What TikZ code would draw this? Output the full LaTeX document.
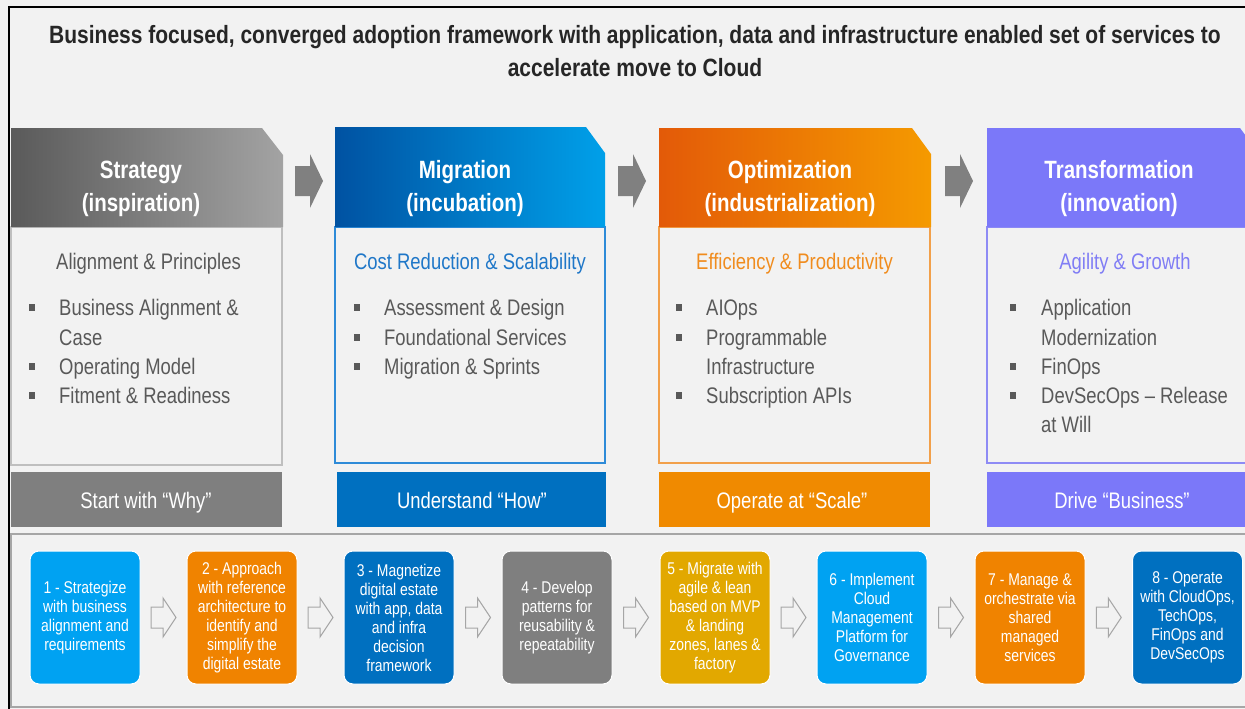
\documentclass[tikz,border=0pt]{standalone}
\usepackage{fontspec}
\setmainfont{Liberation Sans}
\newfontfamily\nar[FakeStretch=0.82]{Liberation Sans}
\newfontfamily\nart[FakeStretch=0.84]{Liberation Sans}
\usetikzlibrary{calc,fit}
\definecolor{bg}{HTML}{F2F2F2}
\definecolor{ttlc}{HTML}{262626}
\definecolor{gtxt}{HTML}{595959}
\definecolor{gA}{HTML}{5A5A5A}
\definecolor{gB}{HTML}{A3A3A3}
\definecolor{bA}{HTML}{0052A2}
\definecolor{bB}{HTML}{00A0E9}
\definecolor{oA}{HTML}{E35A08}
\definecolor{oB}{HTML}{F59A00}
\definecolor{pu}{HTML}{7B78F9}
\definecolor{gbd}{HTML}{BFBFBF}
\definecolor{bbd}{HTML}{2E8BD8}
\definecolor{obd}{HTML}{F2A04A}
\definecolor{pbd}{HTML}{8E8BF5}
\definecolor{bsub}{HTML}{1F77C8}
\definecolor{osub}{HTML}{F08C1E}
\definecolor{psub}{HTML}{807DF5}
\definecolor{bargray}{HTML}{7F7F7F}
\definecolor{barblue}{HTML}{0070C0}
\definecolor{barorange}{HTML}{F08A00}
\definecolor{lblue}{HTML}{00A2F2}
\definecolor{sorange}{HTML}{F08300}
\definecolor{dblue}{HTML}{0070C0}
\definecolor{sgray}{HTML}{7F7F7F}
\definecolor{gold}{HTML}{E2A800}
\definecolor{chev}{HTML}{808080}
\definecolor{harr}{HTML}{A6A6A6}
\definecolor{stripline}{HTML}{A6A6A6}
\newcommand\bitem[5]{%
  \node[sq] (#1s) at (#2,#4-8) {};
  \node[btxt, anchor=base west] (#1) at (#3,#4) {#5};}
\newcommand\bcont[4]{%
  \node[btxt, anchor=base west] (#1) at (#2,#3) {#4};}
\tikzset{
  ttl/.style={text=ttlc, font=\nart\bfseries\fontsize{25}{30}\selectfont, inner sep=0},
  hd/.style={text=white, font=\nar\bfseries\fontsize{25}{30}\selectfont, inner sep=0},
  sub/.style={font=\nar\fontsize{22.5}{27}\selectfont, inner sep=0},
  btxt/.style={text=gtxt, font=\nar\fontsize{22.5}{27}\selectfont, inner sep=0},
  sq/.style={fill=gtxt, minimum width=6, minimum height=7, inner sep=0},
  cbox/.style={fill=bg, line width=1.3pt, inner sep=0},
  bar/.style={inner sep=0},
  bartxt/.style={text=white, font=\nar\fontsize{22.5}{27}\selectfont, inner sep=0},
  strip/.style={fill=bg, draw=stripline, line width=1.5pt, inner sep=0},
  sbox/.style={draw=white, line width=1pt, rounded corners=9pt, minimum width=110, minimum height=133,
     text=white, font=\nar\fontsize{17}{19}\selectfont, align=center, inner sep=0},
  chevron/.pic={\fill[chev] (-14,-15) -- (1,-15) -- (1,-27) -- (14,0) -- (1,27) -- (1,15) -- (-14,15) -- cycle;},
  hollow/.pic={\draw[harr, fill=bg, line width=1pt, line join=miter] (-12.5,-10.5) -- (-0.5,-10.5) -- (-0.5,-19.5) -- (12.5,0) -- (-0.5,19.5) -- (-0.5,10.5) -- (-12.5,10.5) -- cycle;}
}
\begin{document}
\begin{tikzpicture}[x=1pt,y=-1pt]
\useasboundingbox (0,0) rectangle (1245,709);
\clip (0,0) rectangle (1245,709);
\fill[bg] (0,0) rectangle (1245,709);
% frame
\draw[line width=1.6pt] (9,712) -- (9,7) -- (1250,7);
% title
\node[ttl, anchor=base] (t1) at (635,44) {Business focused, converged adoption framework with application, data and infrastructure enabled set of services to};
\node[ttl, anchor=base] (t2) at (635,77) {accelerate move to Cloud};
% content boxes
\node[cbox, draw=gbd, fit={(11,227) (282,465)}] (c1) {};
\node[cbox, draw=bbd, fit={(335,227) (605,463)}] (c2) {};
\node[cbox, draw=obd, fit={(659,227) (930,463)}] (c3) {};
\node[cbox, draw=pbd, fit={(987,227) (1255,463)}] (c4) {};
% headers
\shade[left color=gA, right color=gB] (11,128) -- (262,128) -- (283,155) -- (283,227) -- (11,227) -- cycle;
\shade[left color=bA, right color=bB] (335,127) -- (586,127) -- (605,153) -- (605,227) -- (335,227) -- cycle;
\shade[left color=oA, right color=oB] (659,128) -- (912,128) -- (931,154) -- (931,227) -- (659,227) -- cycle;
\fill[pu] (987,128) -- (1240,128) -- (1260,155) -- (1260,227) -- (987,227) -- cycle;
\coordinate (H1e) at (283,181);
\coordinate (H2w) at (335,181);
\coordinate (H2e) at (605,181);
\coordinate (H3w) at (659,181);
\coordinate (H3e) at (931,181);
\coordinate (H4w) at (987,181);
\node[hd, anchor=base] (h1a) at (141,178) {Strategy};
\node[hd, anchor=base] (h1b) at (141,211) {(inspiration)};
\node[hd, anchor=base] (h2a) at (465,178) {Migration};
\node[hd, anchor=base] (h2b) at (465,211) {(incubation)};
\node[hd, anchor=base] (h3a) at (790,178) {Optimization};
\node[hd, anchor=base] (h3b) at (790,211) {(industrialization)};
\node[hd, anchor=base] (h4a) at (1119,178) {Transformation};
\node[hd, anchor=base] (h4b) at (1119,211) {(innovation)};
% chevrons
\pic at ($(H1e)!0.5!(H2w)$) {chevron};
\pic at ($(H2e)!0.5!(H3w)$) {chevron};
\pic at ($(H3e)!0.5!(H4w)$) {chevron};
% subtitles
\node[sub, text=gtxt, anchor=base] (u1) at (148.5,269) {Alignment \& Principles};
\node[sub, text=bsub, anchor=base] (u2) at (470,269) {Cost Reduction \& Scalability};
\node[sub, text=osub, anchor=base] (u3) at (794.5,269) {Efficiency \& Productivity};
\node[sub, text=psub, anchor=base] (u4) at (1125,269) {Agility \& Growth};
% bullets col1
\bitem{a1}{32}{59}{315}{Business Alignment \&}
\bcont{a1c}{59}{345}{Case}
\bitem{a2}{32}{59}{374}{Operating Model}
\bitem{a3}{32}{59}{403}{Fitment \& Readiness}
% col2
\bitem{m1}{356.5}{384}{315}{Assessment \& Design}
\bitem{m2}{356.5}{384}{345}{Foundational Services}
\bitem{m3}{356.5}{384}{374}{Migration \& Sprints}
% col3
\bitem{o1}{679}{706}{315}{AIOps}
\bitem{o2}{679}{706}{345}{Programmable}
\bcont{o2c}{706}{374}{Infrastructure}
\bitem{o3}{679}{706}{403}{Subscription APIs}
% col4
\bitem{p1}{1013}{1041}{315}{Application}
\bcont{p1c}{1041}{345}{Modernization}
\bitem{p2}{1013}{1041}{374}{FinOps}
\bitem{p3}{1013}{1041}{403}{DevSecOps – Release}
\bcont{p3c}{1041}{432}{at Will}
% bars
\node[bar, fill=bargray, fit={(11,472) (282,527)}] (b1) {};
\node[bar, fill=barblue, fit={(337,472) (606,527)}] (b2) {};
\node[bar, fill=barorange, fit={(659,472) (930,527)}] (b3) {};
\node[bar, fill=pu, fit={(987,472) (1255,527)}] (b4) {};
\node[bartxt, anchor=base] (bt1) at (146,508) {Start with “Why”};
\node[bartxt, anchor=base] (bt2) at (472,508) {Understand “How”};
\node[bartxt, anchor=base] (bt3) at (792,508) {Operate at “Scale”};
\node[bartxt, anchor=base] (bt4) at (1122,508) {Drive “Business”};
% strip
\node[strip, fit={(11,534) (1255,707)}] (strip) {};
% step boxes
\node[sbox, fill=lblue] (s1) at (85,617.5) {1 - Strategize\\with business\\alignment and\\requirements};
\node[sbox, fill=sorange] (s2) at (242,617.5) {2 - Approach\\with reference\\architecture to\\identify and\\simplify the\\digital estate};
\node[sbox, fill=dblue] (s3) at (399,617.5) {3 - Magnetize\\digital estate\\with app, data\\and infra\\decision\\framework};
\node[sbox, fill=sgray] (s4) at (557,617.5) {4 - Develop\\patterns for\\reusability \&\\repeatability};
\node[sbox, fill=gold] (s5) at (715,617.5) {5 - Migrate with\\agile \& lean\\based on MVP\\\& landing\\zones, lanes \&\\factory};
\node[sbox, fill=lblue] (s6) at (872,617.5) {6 - Implement\\Cloud\\Management\\Platform for\\Governance};
\node[sbox, fill=sorange] (s7) at (1030,617.5) {7 - Manage \&\\orchestrate via\\shared\\managed\\services};
\node[sbox, fill=dblue] (s8) at (1187.5,617.5) {8 - Operate\\with CloudOps,\\TechOps,\\FinOps and\\DevSecOps};
\foreach \a/\b in {s1/s2,s2/s3,s3/s4,s4/s5,s5/s6,s6/s7,s7/s8}
  \pic at ($(\a.east)!0.5!(\b.west)$) {hollow};
\end{tikzpicture}
\end{document}
